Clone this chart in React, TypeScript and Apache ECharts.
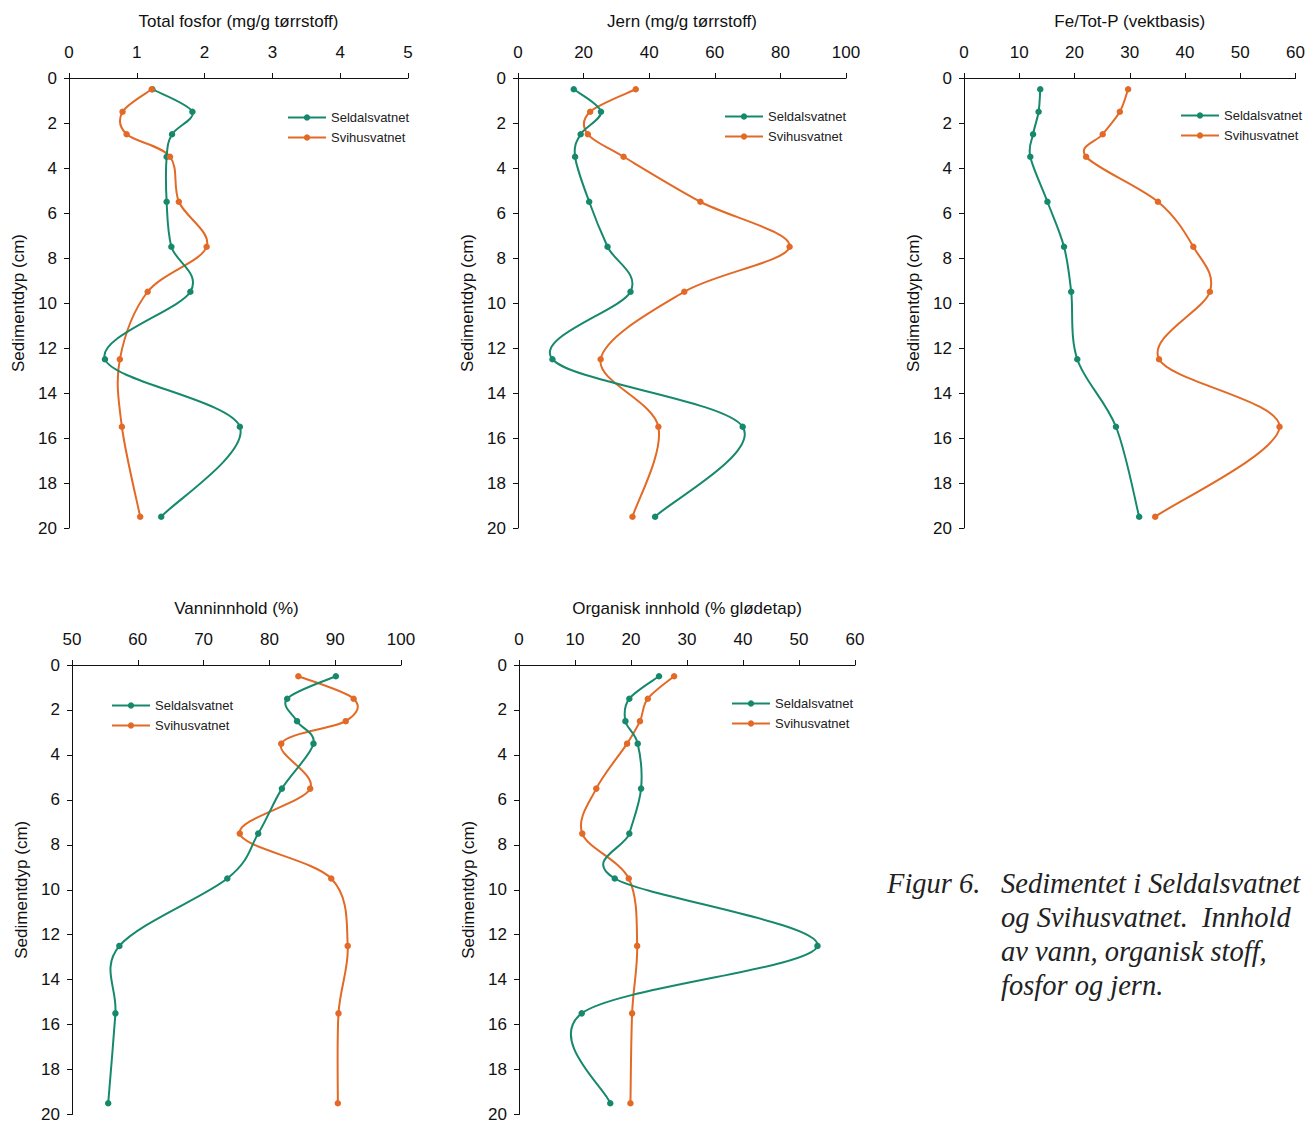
import React, { useEffect, useRef } from "react";
import * as echarts from "echarts";

// Depth of each sample (cm)
const depths = [0.5, 1.5, 2.5, 3.5, 5.5, 7.5, 9.5, 12.5, 15.5, 19.5];

// Total fosfor (mg/g tørrstoff)
const fosforSeldal = [1.23, 1.82, 1.52, 1.44, 1.44, 1.51, 1.79, 0.53, 2.52, 1.36];
const fosforSvihus = [1.22, 0.79, 0.85, 1.49, 1.62, 2.03, 1.16, 0.75, 0.78, 1.05];

// Jern (mg/g tørrstoff)
const jernSeldal = [17.0, 25.3, 19.1, 17.4, 21.7, 27.3, 34.3, 10.5, 68.5, 41.8];
const jernSvihus = [35.9, 22.0, 21.3, 32.2, 55.6, 82.8, 50.7, 25.2, 42.8, 34.9];

// Fe/Tot-P (vektbasis)
const fePSeldal = [13.8, 13.5, 12.5, 12.0, 15.1, 18.1, 19.4, 20.5, 27.5, 31.7];
const fePSvihus = [29.7, 28.2, 25.1, 22.1, 35.1, 41.5, 44.5, 35.3, 57.1, 34.6];

// Vanninnhold (%)
const vannSeldal = [90.1, 82.7, 84.2, 86.7, 81.9, 78.3, 73.6, 57.2, 56.6, 55.5];
const vannSvihus = [84.4, 92.8, 91.6, 81.8, 86.2, 75.5, 89.4, 91.9, 90.5, 90.4];

// Organisk innhold (% glødetap)
const orgSeldal = [25.0, 19.7, 19.0, 21.2, 21.8, 19.7, 17.1, 53.3, 11.2, 16.3];
const orgSvihus = [27.7, 23.0, 21.6, 19.3, 13.8, 11.3, 19.6, 21.1, 20.2, 19.9];

const seriesNames = ["Seldalsvatnet", "Svihusvatnet"];
const panelTitles = [
  "Total fosfor (mg/g tørrstoff)",
  "Jern (mg/g tørrstoff)",
  "Fe/Tot-P (vektbasis)",
  "Vanninnhold (%)",
  "Organisk innhold (% glødetap)",
];
const xRanges = [
  [0, 5, 1],
  [0, 100, 20],
  [0, 60, 10],
  [50, 100, 10],
  [0, 60, 10],
];
const panelData = [
  [fosforSeldal, fosforSvihus],
  [jernSeldal, jernSvihus],
  [fePSeldal, fePSvihus],
  [vannSeldal, vannSvihus],
  [orgSeldal, orgSvihus],
];
const yAxisName = "Sedimentdyp (cm)";
const captionLines = [
  "Sedimentet i Seldalsvatnet",
  "og Svihusvatnet.  Innhold",
  "av vann, organisk stoff,",
  "fosfor og jern.",
];
const captionLabel = "Figur 6.";

const COLORS = ["#16896c", "#e36a26"];
const FONT = "Liberation Sans, Arial, sans-serif";

const grids = [
  { left: 69, top: 78, width: 339, height: 450 },
  { left: 518, top: 78, width: 328, height: 450 },
  { left: 964, top: 78, width: 333, height: 450 },
  { left: 72, top: 665, width: 329, height: 450 },
  { left: 519, top: 665, width: 336, height: 450 },
];
const legendPos = [
  { left: 282, top: 106 },
  { left: 719, top: 105 },
  { left: 1175, top: 104 },
  { left: 106, top: 694 },
  { left: 726, top: 692 },
];

// Catmull-Rom style smoothed path through pixel points (Excel-like smoothing)
function smoothPath(pts: number[][]): string {
  const n = pts.length;
  if (n === 0) return "";
  let d = `M${pts[0][0]},${pts[0][1]}`;
  for (let i = 0; i < n - 1; i++) {
    const p0 = pts[Math.max(i - 1, 0)];
    const p1 = pts[i];
    const p2 = pts[i + 1];
    const p3 = pts[Math.min(i + 2, n - 1)];
    const c1x = p1[0] + (p2[0] - p0[0]) / 6;
    const c1y = p1[1] + (p2[1] - p0[1]) / 6;
    const c2x = p2[0] - (p3[0] - p1[0]) / 6;
    const c2y = p2[1] - (p3[1] - p1[1]) / 6;
    d += ` C${c1x},${c1y} ${c2x},${c2y} ${p2[0]},${p2[1]}`;
  }
  return d;
}

export default function App() {
  const ref = useRef<HTMLDivElement>(null);

  useEffect(() => {
    if (!ref.current) return;
    const chart = echarts.init(ref.current, null, { renderer: "svg" });

    const axisLine = { show: true, lineStyle: { color: "#111", width: 1 } };
    const axisTick = { show: true, inside: false, length: 5, lineStyle: { color: "#111" } };

    const xAxis = grids.map((_, i) => ({
      type: "value",
      gridIndex: i,
      position: "top",
      min: xRanges[i][0],
      max: xRanges[i][1],
      interval: xRanges[i][2],
      axisLine,
      axisTick,
      splitLine: { show: false },
      axisLabel: { fontSize: 17, color: "#111", margin: 17, fontFamily: FONT },
      name: panelTitles[i],
      nameLocation: "middle",
      nameGap: 48,
      nameTextStyle: { fontSize: 17, color: "#111", fontFamily: FONT },
    }));

    const yAxis = grids.map((_, i) => ({
      type: "value",
      gridIndex: i,
      inverse: true,
      min: 0,
      max: 20,
      interval: 2,
      axisLine,
      axisTick,
      splitLine: { show: false },
      axisLabel: { fontSize: 17, color: "#111", margin: 12, fontFamily: FONT },
      name: yAxisName,
      nameLocation: "middle",
      nameGap: 42,
      nameRotate: 90,
      nameTextStyle: { fontSize: 17, color: "#111", fontFamily: FONT },
    }));

    const series: any[] = [];
    panelData.forEach((pair, i) => {
      pair.forEach((vals, k) => {
        const pts = vals.map((v, j) => [v, depths[j]]);
        // Smoothed curve through the data, positioned by the axes' scales
        series.push({
          type: "custom",
          name: seriesNames[k] + " kurve",
          coordinateSystem: "cartesian2d",
          xAxisIndex: i,
          yAxisIndex: i,
          data: pts,
          silent: true,
          z: k === 0 ? 3 : 2,
          renderItem: (params: any, api: any) => {
            if (params.dataIndex !== 0) return null;
            const pix = pts.map((p) => api.coord(p));
            return {
              type: "path",
              shape: { pathData: smoothPath(pix) },
              style: { fill: "none", stroke: COLORS[k], lineWidth: 2 },
            };
          },
        });
        // Markers (and legend entry)
        series.push({
          type: "line",
          name: seriesNames[k],
          xAxisIndex: i,
          yAxisIndex: i,
          data: pts,
          symbol: "circle",
          symbolSize: 6.5,
          showSymbol: true,
          lineStyle: { color: COLORS[k], width: 0, opacity: 0 },
          itemStyle: { color: COLORS[k] },
          z: 4,
        });
      });
    });

    const legend = legendPos.map((p) => ({
      left: p.left,
      top: p.top,
      orient: "vertical",
      itemWidth: 38,
      itemHeight: 8,
      itemGap: 7,
      data: seriesNames,
      lineStyle: { width: 2, opacity: 1 },
      textStyle: { fontSize: 13, color: "#222", fontFamily: FONT },
      selectedMode: false,
    }));

    const serif = "Liberation Serif, DejaVu Serif, serif";
    const graphic: any[] = [
      {
        type: "text",
        left: 887,
        top: 869,
        style: {
          text: captionLabel,
          font: `italic 28.5px ${serif}`,
          fill: "#222",
        },
      },
      ...captionLines.map((t, i) => ({
        type: "text",
        left: 1001,
        top: 869 + i * 34,
        style: { text: t, font: `italic 28.5px ${serif}`, fill: "#222" },
      })),
    ];

    chart.setOption({
      animation: false,
      backgroundColor: "#ffffff",
      grid: grids.map((g) => ({ ...g, containLabel: false })),
      xAxis,
      yAxis,
      legend,
      series,
      graphic,
    });

    return () => chart.dispose();
  }, []);

  return (
    <div
      ref={ref}
      style={{ position: "absolute", left: 0, top: 0, width: 1308, height: 1123 }}
    />
  );
}
